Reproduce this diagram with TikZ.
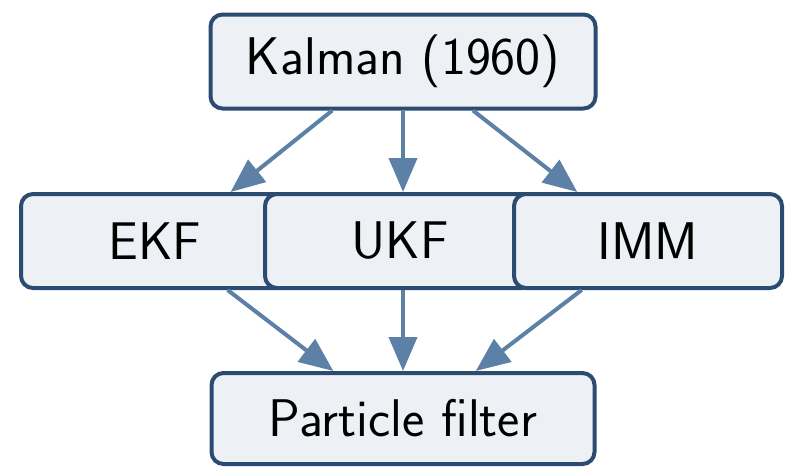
\documentclass[tikz,border=0pt]{standalone}
\usetikzlibrary{calc,arrows.meta}
\definecolor{boxborder}{HTML}{2B4C70}
\definecolor{boxfill}{HTML}{EDF0F4}
\definecolor{arrowcol}{HTML}{5D80A7}
\begin{document}
\begin{tikzpicture}[x=0.5pt,y=-0.5pt,
  box/.style={draw=boxborder,fill=boxfill,line width=2pt,rounded corners=6pt,
    minimum height=47pt,inner sep=0pt,font=\sffamily\fontsize{26.5}{30}\selectfont,text=black},
  conn/.style={draw=arrowcol,line width=2pt,-{Triangle[length=17pt,width=14pt]}}]
\useasboundingbox (0,0) rectangle (786,467);
\node[box,minimum width=192.5pt] (k) at (403,61.5) {Kalman (1960)};
\node[box,minimum width=134pt] (ekf) at (155,241) {EKF};
\node[box,minimum width=135pt] (ukf) at (400,241) {UKF};
\node[box,minimum width=134pt] (imm) at (648,241) {IMM};
\node[box,minimum width=191.5pt,minimum height=45.5pt] (pf) at (403,418.5) {Particle filter};
\draw[conn] ($(k.south west)!0.318!(k.south east)$) -- ($(ekf.north west)!0.778!(ekf.north east)$);
\draw[conn] (k.south) -- (k.south |- ukf.north);
\draw[conn] ($(k.south west)!0.68!(k.south east)$) -- ($(imm.north west)!0.24!(imm.north east)$);
\draw[conn] ($(ekf.south west)!0.767!(ekf.south east)$) -- ($(pf.north west)!0.32!(pf.north east)$);
\draw[conn] (pf.north |- ukf.south) -- (pf.north);
\draw[conn] ($(imm.south west)!0.256!(imm.south east)$) -- ($(pf.north west)!0.688!(pf.north east)$);
\end{tikzpicture}
\end{document}
